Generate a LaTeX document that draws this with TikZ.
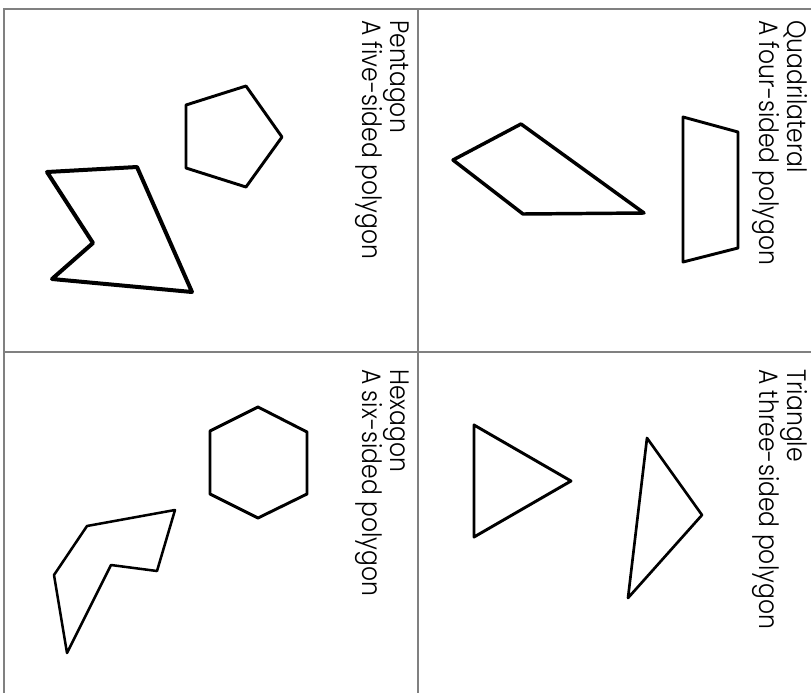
\documentclass[tikz,border=0pt]{standalone}
\usepackage{fontspec}
\setmainfont{Poppins}[UprightFont={* Light}]
\usepackage{tikz}
\newcommand{\squeeze}[1]{\scalebox{0.88}[1]{#1}}

\begin{document}
\begin{tikzpicture}[x=0.75pt, y=-0.75pt,
  every node/.style={font=\fontsize{20}{21}\selectfont},
  frameline/.style={draw=gray, line width=1.1pt},
  figline/.style={draw=black, line width=2.2pt, line join=round},
  caption/.style={rotate=-90, anchor=north west, align=left, inner sep=0pt}]
  \useasboundingbox (0,0) rectangle (811,693);
  % frame
  \draw[frameline] (811,9) -- (4,9) -- (4,693);
  \draw[frameline] (418,9) -- (418,693);
  \draw[frameline] (4,352) -- (811,352);
  % labels
  \node[caption] (quad) at (808,20) {\squeeze{Quadrilateral}\\\squeeze{A four-sided polygon}};
  \node[caption] (penta) at (409,20) {\squeeze{Pentagon}\\\squeeze{A five-sided polygon}};
  \node[caption] (tri) at (808,369) {\squeeze{Triangle}\\\squeeze{A three-sided polygon}};
  \node[caption] (hexa) at (409,369) {\squeeze{Hexagon}\\\squeeze{A six-sided polygon}};
  % quadrilaterals
  \draw[figline, line width=2.6pt] (453,160) -- (521,124) -- (644,213) -- (523,214) -- cycle;
  \draw[figline] (683,117) -- (738,132) -- (738,248) -- (683,262) -- cycle;
  % pentagons
  \draw[figline] (186,105) -- (246,86) -- (282,137) -- (246,187) -- (186,168) -- cycle;
  \draw[figline, line width=3pt] (47,172) -- (137,167) -- (192,292) -- (52,279) -- (93,243) -- cycle;
  % triangles
  \draw[figline] (474,425) -- (571,481) -- (474,537) -- cycle;
  \draw[figline, line width=2pt] (647,438) -- (702,515) -- (628,598) -- cycle;
  % hexagons
  \draw[figline] (258,407) -- (307,432) -- (307,494) -- (258,518) -- (210,494) -- (210,431) -- cycle;
  \draw[figline, line width=1.9pt] (87,526) -- (175,510) -- (157,571) -- (111,565) -- (67,653) -- (54,575) -- cycle;
\end{tikzpicture}
\end{document}
